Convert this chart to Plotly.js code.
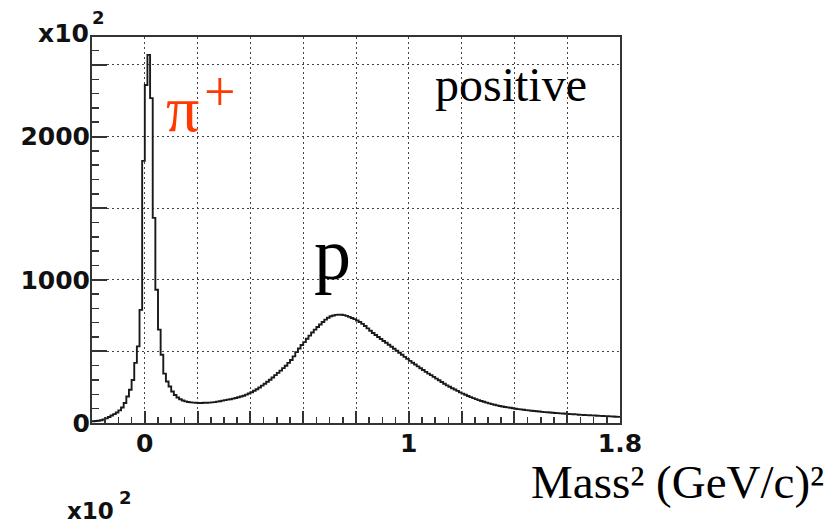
<!DOCTYPE html>
<html>
<head>
<meta charset="utf-8">
<script src="https://cdn.plot.ly/plotly-3.0.1.min.js"></script>
<style>
html,body{margin:0;padding:0;background:#fff;}
#chart{width:839px;height:520px;}
</style>
</head>
<body>
<div id="chart"></div>
<script>
// Histogram of Mass^2 (GeV/c)^2, positive tracks, counts in units of x10^2
var binStart = -0.2;
var binWidth = 0.01;
var counts = [
  12, 14, 16, 19, 25, 32, 42, 52, 62, 73,
  88, 108, 140, 185, 232, 300, 420, 535, 790, 1830,
  2360, 2570, 2268, 1432, 930, 652, 477, 345, 290, 255,
  220, 195, 178, 166, 157, 151, 147, 144, 142, 141,
  140, 140, 141, 141, 142, 144, 146, 149, 152, 156,
  160, 163, 166, 170, 175, 180, 185, 190, 198, 206,
  215, 225, 236, 248, 261, 274, 288, 302, 318, 334,
  350, 366, 383, 400, 420, 440, 465, 495, 520, 545,
  565, 588, 610, 632, 652, 670, 688, 705, 722, 735,
  745, 751, 755, 757, 756, 753, 748, 741, 733, 725,
  716, 705, 692, 677, 661, 644, 628, 614, 600, 587,
  573, 560, 546, 532, 518, 504, 490, 476, 462, 448,
  434, 421, 408, 395, 382, 370, 357, 345, 334, 322,
  310, 298, 286, 274, 263, 253, 243, 234, 224, 214,
  205, 197, 189, 181, 174, 167, 160, 154, 148, 142,
  137, 132, 127, 123, 119, 115, 112, 109, 106, 103,
  100, 97, 95, 92, 90, 88, 86, 84, 82, 80,
  78, 76, 75, 73, 72, 70, 69, 67, 66, 65,
  63, 62, 61, 60, 58, 57, 56, 55, 54, 53,
  52, 51, 50, 49, 48, 47, 46, 45, 44, 43
];
var xTickVals = [0, 0.2, 0.4, 0.6, 0.8, 1.0, 1.2, 1.4, 1.6, 1.8];
var xTickText = ["0", "", "", "", "", "1", "", "", "", "1.8"];
var yTickVals = [0, 500, 1000, 1500, 2000, 2500];
var yTickText = ["0", "", "1000", "", "2000", ""];

var xs = [], ys = [];
for (var i = 0; i < counts.length; i++) {
  xs.push(binStart + binWidth * i);
  ys.push(counts[i]);
}
xs.push(binStart + binWidth * counts.length);
ys.push(counts[counts.length - 1]);

var trace = {
  type: 'scatter', mode: 'lines', x: xs, y: ys,
  line: {shape: 'hv', color: '#1a1a1a', width: 1.9},
  hoverinfo: 'skip', showlegend: false
};

var tickFont = {family: 'DejaVu Sans', size: 25, color: '#111', weight: 'bold'};
var serif = 'Liberation Serif, Times New Roman, serif';
var boldSans = function (s) { return {family: 'DejaVu Sans', size: s, color: '#111', weight: 'bold'}; };

var layout = {
  width: 839, height: 520,
  margin: {l: 92, r: 219, t: 37, b: 97, pad: 0},
  paper_bgcolor: '#fff', plot_bgcolor: '#fff',
  showlegend: false,
  xaxis: {
    range: [-0.2, 1.8], tickmode: 'array', tickvals: xTickVals, ticktext: xTickText,
    ticks: 'inside', ticklen: 12, tickwidth: 2, tickcolor: '#333',
    showline: true, mirror: true, linecolor: '#333', linewidth: 2,
    showgrid: true, gridcolor: '#444', gridwidth: 1, griddash: '2px,3px',
    zeroline: false, tickfont: tickFont, ticklabelstandoff: -3,
    minor: {tickmode: 'linear', tick0: 0, dtick: 0.05, ticks: 'inside', ticklen: 6, tickwidth: 1.5, tickcolor: '#333', showgrid: false}
  },
  yaxis: {
    range: [0, 2695], tickmode: 'array', tickvals: yTickVals, ticktext: yTickText,
    ticks: 'inside', ticklen: 15, tickwidth: 2, tickcolor: '#333',
    showline: true, mirror: true, linecolor: '#333', linewidth: 2,
    showgrid: true, gridcolor: '#444', gridwidth: 1, griddash: '2px,3px',
    zeroline: false, tickfont: tickFont, ticklabelstandoff: -5,
    minor: {tickmode: 'linear', tick0: 0, dtick: 100, ticks: 'inside', ticklen: 7, tickwidth: 1.5, tickcolor: '#333', showgrid: false}
  },
  annotations: [
    {xref: 'paper', yref: 'paper', x: -0.106, y: 1.0085, xanchor: 'left', yanchor: 'middle',
     text: 'x10', showarrow: false, font: boldSans(25)},
    {xref: 'paper', yref: 'paper', x: -0.004, y: 1.05, xanchor: 'left', yanchor: 'middle',
     text: '2', showarrow: false, font: boldSans(18)},
    {xref: 'paper', yref: 'paper', x: 0.794, y: 0.876, xanchor: 'center', yanchor: 'middle',
     text: 'positive', showarrow: false, font: {family: serif, size: 48, color: '#000'}},
    {xref: 'paper', yref: 'paper', x: 0.172, y: 0.816, xanchor: 'center', yanchor: 'middle',
     text: '\u03C0', showarrow: false, font: {family: serif, size: 66, color: '#ff3a00'}},
    {xref: 'paper', yref: 'paper', x: 0.2415, y: 0.857, xanchor: 'center', yanchor: 'middle',
     text: '+', showarrow: false, font: {family: serif, size: 56, color: '#ff3a00'}},
    {xref: 'paper', yref: 'paper', x: 0.456, y: 0.439, xanchor: 'center', yanchor: 'middle',
     text: 'p', showarrow: false, font: {family: serif, size: 74, color: '#000'}},
    {xref: 'paper', yref: 'paper', x: 1.108, y: -0.153, xanchor: 'center', yanchor: 'middle',
     text: 'Mass\u00B2 (GeV/c)\u00B2', showarrow: false, font: {family: serif, size: 47, color: '#000'}},
    {xref: 'paper', yref: 'paper', x: -0.051, y: -0.229, xanchor: 'left', yanchor: 'middle',
     text: 'x10', showarrow: false, font: boldSans(23)},
    {xref: 'paper', yref: 'paper', x: 0.0473, y: -0.194, xanchor: 'left', yanchor: 'middle',
     text: '2', showarrow: false, font: boldSans(18)}
  ]
};

Plotly.newPlot('chart', [trace], layout, {displayModeBar: false, staticPlot: true});
</script>
</body>
</html>
